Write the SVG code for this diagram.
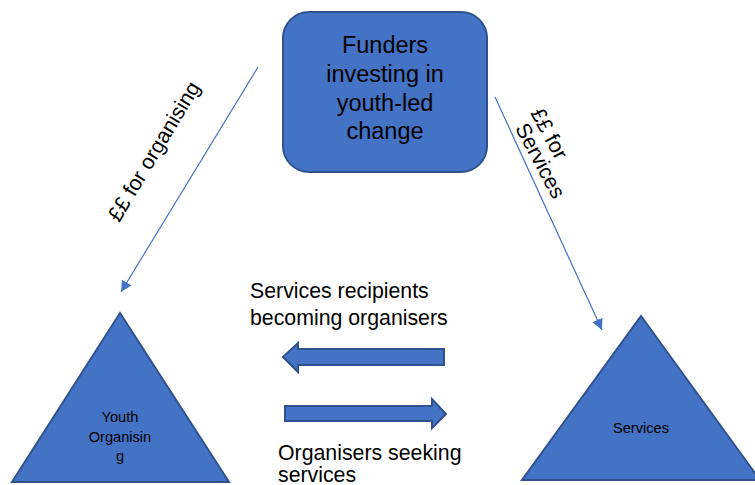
<svg xmlns="http://www.w3.org/2000/svg" width="755" height="485" viewBox="0 0 755 485">
  <style>
    .shape { fill: #4472C4; stroke: #2F528F; stroke-width: 2; }
    .conn { fill: none; stroke: #4472C4; stroke-width: 1.2; }
    .t { font-family: "Liberation Sans", Arial, sans-serif; fill: #000; }
    .big { font-size: 21.3px; }
    .head { font-size: 23.5px; }
    .small { font-size: 14.6px; }
  </style>
  <defs>
    <marker id="tri" viewBox="0 0 10 10" refX="10" refY="5" markerWidth="11" markerHeight="11" markerUnits="userSpaceOnUse" orient="auto">
      <path d="M0,0 L10,5 L0,10 Z" fill="#4472C4"/>
    </marker>
  </defs>
  <rect width="755" height="485" fill="#ffffff"/>

  <!-- funding flows and exchange arrows -->
  <g id="connectors">
    <line class="conn" x1="258" y1="67" x2="121" y2="292" marker-end="url(#tri)"/>
    <line class="conn" x1="495" y1="97" x2="602" y2="330" marker-end="url(#tri)"/>
    <path class="shape" d="M444,349 L298,349 L298,343 L283,357 L298,372 L298,365 L444,365 Z"/>
    <path class="shape" d="M285,406 L432,406 L432,399 L446,414 L432,428 L432,421 L285,421 Z"/>
  </g>

  <!-- connector labels -->
  <text class="t big" text-anchor="middle" transform="translate(160,155) rotate(-59)">££ for organising</text>
  <text class="t big" text-anchor="middle" transform="translate(543,137) rotate(62)">££ for</text>
  <text class="t big" text-anchor="middle" transform="translate(534,164) rotate(62)">Services</text>
  <text class="t big" x="250" y="298">Services recipients</text>
  <text class="t big" x="250" y="325">becoming organisers</text>
  <text class="t big" x="278" y="460">Organisers seeking</text>
  <text class="t big" x="278" y="482">services</text>

  <g id="funders">
    <rect class="shape" x="283" y="12" width="204" height="160" rx="26" ry="26"/>
    <text class="t head" text-anchor="middle" x="385" y="53">Funders</text>
    <text class="t head" text-anchor="middle" x="385" y="82">investing in</text>
    <text class="t head" text-anchor="middle" x="385" y="111">youth-led</text>
    <text class="t head" text-anchor="middle" x="385" y="139">change</text>
  </g>

  <g id="youth-organising">
    <path class="shape" d="M120,313 L229,482 L12,482 Z"/>
    <text class="t small" text-anchor="middle" x="120" y="422">Youth</text>
    <text class="t small" text-anchor="middle" x="120" y="442">Organisin</text>
    <text class="t small" text-anchor="middle" x="120" y="461">g</text>
  </g>

  <g id="services">
    <path class="shape" d="M641,316 L760,480 L522,480 Z"/>
    <text class="t small" text-anchor="middle" x="641" y="433">Services</text>
  </g>
</svg>
